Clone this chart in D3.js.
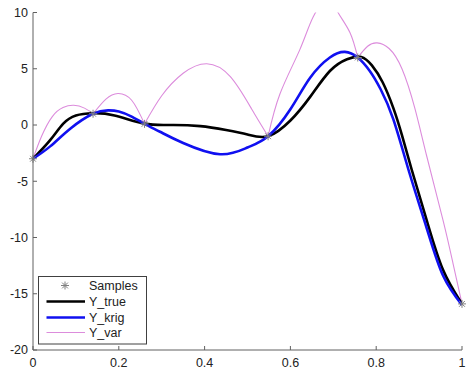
<!DOCTYPE html>
<html><head><meta charset="utf-8">
<script src="https://cdn.jsdelivr.net/npm/d3@7"></script>
<style>
html,body{margin:0;padding:0;background:#fff;}
svg{display:block;font-family:"Liberation Sans",Arial,sans-serif;}
</style></head>
<body>
<svg id="chart" width="467" height="371"></svg>
<script>
// ---- data ----
const sampleX = [0, 0.14, 0.26, 0.548, 0.757, 1];
const sampleY = [-3, 1.0, 0.1, -1.0, 6.0, -15.9];

const trueX = [0, 0.04, 0.07, 0.1, 0.14, 0.19, 0.26, 0.32, 0.39, 0.45, 0.5, 0.548, 0.6, 0.646, 0.692, 0.732, 0.765, 0.79, 0.815, 0.84, 0.86, 0.883, 0.918, 0.956, 1];
const trueY = [-3, -1.35, 0.1, 0.85, 1.05, 0.85, 0.12, 0.0, -0.1, -0.45, -0.85, -1.0, 0.4, 2.5, 4.8, 5.85, 6.05, 5.3, 3.8, 1.5, -0.9, -4.0, -8.5, -12.9, -15.9];

const krigX = [0, 0.04, 0.086, 0.14, 0.175, 0.2, 0.23, 0.26, 0.296, 0.35, 0.436, 0.5, 0.548, 0.6, 0.646, 0.692, 0.727, 0.757, 0.785, 0.81, 0.84, 0.877, 0.918, 0.956, 1];
const krigY = [-3, -1.9, -0.35, 1.0, 1.3, 1.2, 0.75, 0.1, -0.6, -1.6, -2.6, -2.0, -1.0, 1.4, 4.2, 6.0, 6.5, 6.0, 4.8, 3.2, 0.5, -4.2, -9.2, -13.4, -16];

const varX = [0, 0.02, 0.045, 0.07, 0.095, 0.12, 0.14,
              0.17, 0.198, 0.23, 0.26,
              0.3, 0.35, 0.405, 0.46, 0.51, 0.548,
              0.576, 0.622, 0.653, 0.687, 0.711, 0.739, 0.757,
              0.78, 0.802, 0.83, 0.86, 0.89, 0.918, 0.956, 0.979, 1];
const varY = [-3, -1.0, 0.75, 1.55, 1.75, 1.5, 1.0,
              2.3, 2.8, 2.2, 0.1,
              2.6, 4.6, 5.45, 4.3, 1.4, -1.0,
              2.8, 6.7, 9.6, 11.1, 10.0, 8.2, 6.0,
              7.0, 7.3, 6.8, 5.0, 1.5, -2.8, -8.5, -12.3, -15.9];

const xTicks = [0, 0.2, 0.4, 0.6, 0.8, 1];
const xTickLabels = ["0", "0.2", "0.4", "0.6", "0.8", "1"];
const yTicks = [-20, -15, -10, -5, 0, 5, 10];
const yTickLabels = ["-20", "-15", "-10", "-5", "0", "5", "10"];

const legendLabels = ["Samples", "Y_true", "Y_krig", "Y_var"];

// ---- layout ----
const svg = d3.select("#chart");
const L = 33, R = 462, T = 12.5, B = 350;
const x = d3.scaleLinear().domain([0, 1]).range([L, R]);
const y = d3.scaleLinear().domain([-20, 10]).range([B, T]);

svg.append("defs").append("clipPath").attr("id", "clip")
  .append("rect").attr("x", L).attr("y", T).attr("width", R - L).attr("height", B - T);

const plot = svg.append("g").attr("clip-path", "url(#clip)");

const zipXY = (xs, ys) => xs.map((v, i) => [v, ys[i]]);
const line = d3.line().x(d => x(d[0])).y(d => y(d[1])).curve(d3.curveNatural);

// Y_var: smooth arcs between samples (cusps at sample points)
const varPts = zipXY(varX, varY);
const segs = [];
for (let s = 0; s < sampleX.length - 1; s++) {
  segs.push(varPts.filter(p => p[0] >= sampleX[s] - 1e-9 && p[0] <= sampleX[s + 1] + 1e-9));
}
const varColor = "#dc8cdc", trueColor = "#000000", krigColor = "#1010f0", sampColor = "#808080";

plot.selectAll("path.var").data(segs).enter().append("path")
  .attr("class", "var").attr("d", line).attr("fill", "none")
  .attr("stroke", varColor).attr("stroke-width", 1.1);

plot.append("path").attr("d", line(zipXY(trueX, trueY))).attr("fill", "none")
  .attr("stroke", trueColor).attr("stroke-width", 2.6);
plot.append("path").attr("d", line(zipXY(krigX, krigY))).attr("fill", "none")
  .attr("stroke", krigColor).attr("stroke-width", 2.6);

function asterisk(g, cx, cy, r) {
  const a = r * 0.72;
  const segsA = [[-r,0,r,0],[0,-r,0,r],[-a,-a,a,a],[-a,a,a,-a]];
  segsA.forEach(s => g.append("line")
    .attr("x1", cx + s[0]).attr("y1", cy + s[1]).attr("x2", cx + s[2]).attr("y2", cy + s[3])
    .attr("stroke", sampColor).attr("stroke-width", 1));
}
const sampG = svg.append("g");
sampleX.forEach((sx, i) => asterisk(sampG, x(sx), y(sampleY[i]), 4));

// ---- axes ----
const axColor = "#606060", txtColor = "#222";
const axG = svg.append("g");
axG.append("line").attr("x1", L).attr("x2", R).attr("y1", B).attr("y2", B).attr("stroke", axColor).attr("stroke-width", 1);
axG.append("line").attr("x1", L).attr("x2", L).attr("y1", T).attr("y2", B).attr("stroke", axColor).attr("stroke-width", 1);

xTicks.forEach((t, i) => {
  axG.append("line").attr("x1", x(t)).attr("x2", x(t)).attr("y1", B).attr("y2", B - 4).attr("stroke", axColor);
  axG.append("text").attr("x", x(t)).attr("y", B + 17).attr("text-anchor", "middle")
    .attr("font-size", 12.5).attr("fill", txtColor).text(xTickLabels[i]);
});
yTicks.forEach((t, i) => {
  axG.append("line").attr("x1", L).attr("x2", L + 4).attr("y1", y(t)).attr("y2", y(t)).attr("stroke", axColor);
  axG.append("text").attr("x", L - 5).attr("y", y(t)).attr("dy", "0.35em").attr("text-anchor", "end")
    .attr("font-size", 12.5).attr("fill", txtColor).text(yTickLabels[i]);
});

// ---- legend ----
const lg = svg.append("g");
lg.append("rect").attr("x", 38.5).attr("y", 276.5).attr("width", 108).attr("height", 67.5)
  .attr("fill", "#fff").attr("stroke", "#404040").attr("stroke-width", 1);
const rowY = [285.5, 301.5, 317.5, 332.5];
asterisk(lg, 65, rowY[0], 4);
const lgStyles = [null, [trueColor, 2.6], [krigColor, 2.6], [varColor, 1.1]];
legendLabels.forEach((lab, i) => {
  if (i > 0) lg.append("line").attr("x1", 46.5).attr("x2", 85).attr("y1", rowY[i]).attr("y2", rowY[i])
    .attr("stroke", lgStyles[i][0]).attr("stroke-width", lgStyles[i][1]);
  lg.append("text").attr("x", 89).attr("y", rowY[i]).attr("dy", "0.35em")
    .attr("font-size", 12.5).attr("fill", txtColor).text(lab);
});
</script>
</body></html>
